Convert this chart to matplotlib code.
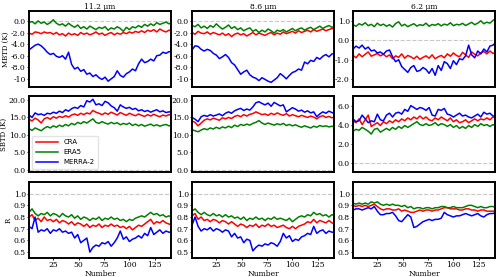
import numpy as np
import matplotlib
matplotlib.use('Agg')
import matplotlib.pyplot as plt

plt.rcParams['font.family'] = 'DejaVu Serif'

number = np.arange(1, 143, 3)

titles = ['11.2 μm', '8.6 μm', '6.2 μm']
row_labels = ['MBTD (K)', 'SBTD (K)', 'R']
names = ['CRA', 'ERA5', 'MERRA-2']

# MBTD
mbtd_cra_112 = [-2.1, -2.3, -1.9, -2.0, -2.2, -1.9, -2.1, -2.0, -2.3, -2.0, -2.4, -2.2,
                -2.6, -2.1, -2.4, -2.2, -2.5, -2.0, -2.3, -2.1, -2.4, -2.2, -1.9, -2.3,
                -2.1, -2.5, -2.2, -2.0, -2.4, -2.1, -2.3, -2.0, -2.2, -1.9, -2.1, -1.8,
                -2.0, -1.7, -2.0, -1.6, -1.8, -1.5, -1.9, -1.4, -1.7, -1.9, -1.6, -1.7]
mbtd_era_112 = [-0.3, -0.1, -0.5, 0.0, -0.4, -0.2, -0.6, -0.3, 0.2, -0.4, -0.7, -0.5,
                -0.9, -0.4, -0.8, -1.1, -0.7, -1.3, -1.0, -1.4, -0.9, -1.2, -1.5, -1.1,
                -1.3, -1.0, -1.6, -1.2, -1.4, -1.0, -1.3, -1.8, -1.1, -1.5, -1.0, -1.2,
                -0.8, -1.1, -0.6, -0.9, -0.5, -0.8, -0.3, -0.6, -0.4, -0.2, -0.5, -0.3]
mbtd_mer_112 = [-5.0, -4.6, -4.2, -4.0, -4.3, -4.8, -5.4, -5.8, -5.6, -6.1, -6.3, -6.0,
                -6.6, -5.4, -7.5, -8.3, -8.0, -8.7, -8.4, -9.2, -9.0, -9.6, -9.3, -9.8,
                -10.1, -9.7, -10.4, -10.0, -9.6, -8.6, -9.4, -9.7, -9.1, -8.8, -8.3, -8.6,
                -7.4, -6.6, -7.2, -7.0, -6.6, -6.9, -6.0, -5.9, -5.4, -5.6, -5.3, -5.4]

mbtd_cra_86 = [-2.0, -2.3, -1.8, -2.1, -2.2, -1.9, -2.3, -2.0, -2.2, -2.4, -2.1, -2.5,
               -2.2, -2.7, -2.3, -2.1, -2.4, -2.2, -2.6, -2.3, -2.0, -2.4, -2.1, -2.3,
               -2.5, -2.2, -2.0, -2.4, -2.1, -2.3, -1.9, -2.2, -2.0, -1.8, -2.1, -1.7,
               -2.0, -1.8, -1.6, -1.9, -1.5, -1.8, -1.6, -1.4, -1.7, -1.5, -1.3, -1.4]
mbtd_era_86 = [-0.8, -1.0, -0.6, -1.2, -0.9, -1.3, -0.8, -1.1, -0.5, -1.0, -1.4, -1.1,
               -0.7, -1.3, -1.0, -1.5, -1.2, -1.7, -1.4, -1.2, -1.8, -1.5, -2.0, -1.6,
               -1.9, -1.4, -1.7, -2.1, -1.6, -1.8, -1.5, -1.9, -1.6, -1.3, -1.7, -1.4,
               -1.2, -1.6, -1.3, -1.1, -1.5, -1.2, -0.9, -1.3, -1.0, -0.8, -1.1, -0.9]
mbtd_mer_86 = [-5.0, -4.3, -4.4, -4.9, -5.2, -4.9, -5.1, -5.6, -5.9, -6.5, -6.2, -5.8,
               -6.3, -7.2, -7.6, -8.4, -9.2, -8.8, -8.5, -9.3, -9.7, -9.9, -10.3, -9.8,
               -10.1, -10.4, -10.6, -10.2, -9.8, -9.1, -9.5, -10.0, -9.4, -8.9, -8.7, -8.3,
               -8.5, -7.1, -7.4, -6.8, -7.0, -6.3, -6.6, -6.1, -5.8, -6.2, -5.7, -5.6]

mbtd_cra_62 = [-0.78, -0.90, -0.70, -0.85, -0.72, -0.60, -0.82, -0.75, -0.68, -0.80, -0.72, -0.85,
               -0.75, -0.95, -0.80, -0.88, -0.70, -0.92, -0.78, -0.85, -0.95, -0.82, -0.98, -0.88,
               -0.80, -0.92, -0.75, -0.95, -0.85, -0.78, -0.90, -0.70, -0.82, -0.65, -0.78, -0.85,
               -0.62, -0.75, -0.88, -0.60, -0.72, -0.80, -0.65, -0.58, -0.70, -0.55, -0.68, -0.60]
mbtd_era_62 = [0.80, 0.72, 0.85, 0.78, 0.90, 0.75, 0.82, 0.70, 0.88, 0.76, 0.83, 0.72,
               0.80, 0.68, 0.86, 0.95, 0.74, 0.82, 0.70, 0.78, 0.85, 0.73, 0.80, 0.76,
               0.88, 0.72, 0.81, 0.77, 0.85, 0.74, 0.83, 0.78, 0.90, 0.75, 0.82, 0.79,
               0.87, 0.76, 0.84, 0.92, 0.80, 0.88, 1.00, 0.85, 0.93, 0.88, 1.02, 1.12]
mbtd_mer_62 = [-0.45, -0.30, -0.40, -0.25, -0.45, -0.35, -0.55, -0.50, -0.65, -0.60, -0.72, -0.55,
               -0.50, -0.85, -1.10, -1.00, -1.35, -1.50, -1.65, -1.40, -1.30, -1.60, -1.55, -1.40,
               -1.50, -1.70, -1.45, -1.80, -1.30, -1.55, -1.10, -1.20, -1.45, -1.05, -1.25, -0.95,
               -1.00, -0.80, -0.25, -0.75, -0.90, -0.55, -0.70, -0.45, -0.60, -0.30, -0.25, -0.10]

# SBTD
sbtd_cra_112 = [14.5, 14.0, 14.8, 14.3, 13.4, 14.6, 15.0, 14.5, 15.2, 14.8, 15.3, 15.0,
                15.5, 15.1, 15.7, 16.0, 15.6, 16.2, 15.8, 16.3, 16.0, 17.0, 16.5, 16.2,
                15.8, 16.3, 15.9, 16.5, 16.1, 15.7, 16.4, 16.0, 15.6, 16.2, 15.8, 15.5,
                16.0, 15.6, 15.3, 15.8, 15.4, 15.9, 15.5, 15.2, 15.7, 15.4, 15.8, 15.6]
sbtd_era_112 = [11.8, 11.3, 12.0, 11.6, 11.2, 11.9, 12.4, 12.0, 12.6, 12.2, 12.8, 12.4,
                13.0, 12.6, 13.3, 12.9, 13.6, 13.2, 13.8, 13.4, 14.0, 14.6, 13.6, 13.3,
                13.8, 13.4, 13.1, 13.6, 13.2, 13.5, 12.9, 13.3, 13.0, 13.4, 12.7, 13.1,
                12.6, 13.0, 12.5, 12.8, 13.1, 12.6, 12.9, 12.5, 12.8, 13.0, 12.6, 12.8]
sbtd_mer_112 = [15.7, 15.0, 16.3, 15.8, 16.0, 15.6, 16.2, 16.0, 16.5, 16.2, 16.8, 16.4,
                17.2, 16.8, 17.5, 17.9, 17.6, 18.4, 18.0, 19.8, 19.4, 20.2, 18.6, 18.9,
                18.4, 19.6, 19.2, 18.3, 17.8, 16.8, 18.6, 18.0, 17.6, 17.9, 17.3, 17.6,
                16.9, 17.2, 16.7, 17.0, 16.5, 16.9, 17.2, 16.6, 16.9, 16.4, 16.6, 16.5]

sbtd_cra_86 = [14.0, 13.6, 12.6, 13.4, 14.2, 14.6, 14.3, 14.8, 14.5, 14.2, 14.9, 14.6,
               15.0, 14.7, 15.3, 15.6, 15.2, 15.8, 15.4, 15.9, 16.1, 16.6, 16.2, 15.8,
               16.0, 15.6, 16.2, 15.8, 16.3, 15.9, 15.6, 16.1, 15.4, 15.8, 15.5, 15.2,
               15.6, 15.3, 15.0, 15.4, 15.1, 14.6, 15.2, 15.5, 15.0, 15.3, 14.9, 15.1]
sbtd_era_86 = [11.5, 11.2, 10.9, 11.4, 11.8, 11.5, 12.0, 11.7, 12.2, 11.8, 12.3, 12.0,
               12.5, 12.1, 12.8, 12.4, 13.0, 12.7, 13.1, 12.8, 13.3, 13.6, 14.1, 13.4,
               13.0, 13.4, 13.1, 12.8, 13.2, 12.9, 13.3, 12.7, 13.0, 12.6, 12.9, 12.5,
               12.2, 12.6, 12.3, 12.0, 12.5, 12.2, 12.7, 12.4, 12.6, 12.3, 12.5, 12.2]
sbtd_mer_86 = [15.0, 14.5, 13.8, 15.2, 15.6, 15.3, 15.8, 15.4, 15.7, 16.0, 15.5, 16.2,
               16.6, 16.2, 16.9, 17.3, 17.6, 17.0, 17.4, 17.1, 18.0, 19.2, 19.5, 19.0,
               18.6, 19.1, 18.2, 19.3, 18.8, 18.3, 18.6, 16.6, 17.2, 17.8, 17.4, 16.8,
               17.1, 16.5, 16.9, 16.3, 16.6, 15.2, 16.0, 16.6, 16.2, 16.8, 16.4, 16.0]

sbtd_cra_62 = [4.4, 4.2, 4.6, 4.0, 4.5, 5.0, 3.8, 4.0, 4.2, 3.9, 4.3, 4.1,
               4.4, 4.2, 4.5, 4.3, 4.6, 4.4, 4.7, 4.5, 4.8, 4.6, 4.9, 4.6,
               4.8, 4.5, 4.4, 4.7, 4.5, 4.8, 4.6, 4.4, 4.7, 4.3, 4.5, 4.2,
               4.3, 4.5, 4.2, 4.4, 4.6, 4.4, 4.6, 4.5, 4.7, 4.5, 4.8, 4.7]
sbtd_era_62 = [3.3, 3.5, 3.4, 3.7, 3.5, 3.3, 3.0, 3.5, 3.6, 3.2, 3.4, 3.6,
               3.4, 3.7, 3.5, 3.8, 3.6, 3.9, 3.7, 3.9, 4.1, 4.3, 4.0, 3.9,
               4.1, 3.9, 4.0, 4.2, 3.9, 4.1, 4.0, 3.8, 4.0, 3.7, 3.9, 3.6,
               3.8, 3.6, 3.9, 3.7, 4.0, 3.8, 4.1, 3.9, 4.0, 3.8, 4.0, 3.9]
sbtd_mer_62 = [4.6, 4.3, 4.4, 5.0, 4.6, 4.2, 4.4, 4.3, 5.1, 4.5, 4.4, 5.0,
               5.2, 4.8, 5.2, 5.3, 5.1, 5.6, 5.4, 6.0, 5.8, 5.6, 5.8, 5.7,
               5.5, 5.8, 5.0, 4.9, 5.6, 5.5, 5.7, 5.1, 5.0, 4.8, 5.0, 5.2,
               4.9, 5.0, 4.8, 4.7, 4.9, 5.1, 4.8, 5.3, 5.1, 5.2, 4.9, 4.9]

# R
r_cra_112 = [0.80, 0.82, 0.77, 0.79, 0.76, 0.80, 0.77, 0.78, 0.76, 0.78, 0.75, 0.77,
             0.76, 0.74, 0.76, 0.73, 0.75, 0.74, 0.72, 0.74, 0.71, 0.73, 0.72, 0.74,
             0.71, 0.73, 0.72, 0.74, 0.72, 0.73, 0.71, 0.72, 0.70, 0.72, 0.69, 0.71,
             0.73, 0.72, 0.74, 0.76, 0.78, 0.74, 0.76, 0.75, 0.77, 0.75, 0.74, 0.73]
r_era_112 = [0.84, 0.87, 0.83, 0.81, 0.83, 0.82, 0.84, 0.81, 0.83, 0.82, 0.80, 0.83,
             0.81, 0.80, 0.82, 0.79, 0.81, 0.78, 0.80, 0.79, 0.77, 0.79, 0.78, 0.80,
             0.77, 0.79, 0.78, 0.80, 0.78, 0.79, 0.77, 0.78, 0.76, 0.78, 0.77, 0.79,
             0.80, 0.81, 0.80, 0.82, 0.84, 0.82, 0.83, 0.81, 0.82, 0.80, 0.81, 0.80]
r_mer_112 = [0.72, 0.70, 0.80, 0.67, 0.69, 0.68, 0.70, 0.66, 0.69, 0.68, 0.70, 0.67,
             0.68, 0.66, 0.67, 0.62, 0.65, 0.58, 0.60, 0.62, 0.50, 0.54, 0.56, 0.55,
             0.58, 0.57, 0.59, 0.55, 0.58, 0.62, 0.68, 0.61, 0.63, 0.59, 0.61, 0.62,
             0.64, 0.62, 0.66, 0.64, 0.71, 0.65, 0.67, 0.69, 0.66, 0.68, 0.67, 0.67]

r_cra_86 = [0.81, 0.83, 0.78, 0.80, 0.77, 0.78, 0.76, 0.78, 0.77, 0.75, 0.77, 0.76,
            0.74, 0.76, 0.74, 0.72, 0.74, 0.73, 0.71, 0.73, 0.72, 0.74, 0.71, 0.73,
            0.72, 0.74, 0.72, 0.73, 0.71, 0.72, 0.73, 0.71, 0.70, 0.72, 0.70, 0.72,
            0.73, 0.74, 0.76, 0.75, 0.78, 0.75, 0.77, 0.76, 0.75, 0.77, 0.75, 0.74]
r_era_86 = [0.85, 0.87, 0.84, 0.82, 0.84, 0.82, 0.81, 0.83, 0.81, 0.82, 0.80, 0.82,
            0.80, 0.81, 0.79, 0.80, 0.78, 0.80, 0.77, 0.79, 0.78, 0.80, 0.78, 0.79,
            0.77, 0.79, 0.78, 0.80, 0.78, 0.79, 0.78, 0.77, 0.79, 0.76, 0.78, 0.80,
            0.81, 0.80, 0.82, 0.81, 0.84, 0.82, 0.83, 0.81, 0.82, 0.80, 0.82, 0.81]
r_mer_86 = [0.73, 0.80, 0.72, 0.68, 0.70, 0.69, 0.71, 0.68, 0.70, 0.69, 0.67, 0.69,
            0.68, 0.63, 0.66, 0.62, 0.63, 0.58, 0.61, 0.60, 0.51, 0.54, 0.56, 0.55,
            0.57, 0.56, 0.58, 0.57, 0.55, 0.59, 0.66, 0.62, 0.64, 0.59, 0.61, 0.60,
            0.63, 0.64, 0.66, 0.65, 0.72, 0.66, 0.68, 0.69, 0.66, 0.68, 0.67, 0.67]

r_cra_62 = [0.90, 0.89, 0.90, 0.89, 0.90, 0.89, 0.90, 0.91, 0.89, 0.87, 0.86, 0.87,
            0.87, 0.86, 0.86, 0.87, 0.85, 0.86, 0.85, 0.84, 0.84, 0.85, 0.86, 0.85,
            0.86, 0.86, 0.85, 0.86, 0.86, 0.87, 0.88, 0.88, 0.87, 0.87, 0.87, 0.86,
            0.86, 0.87, 0.87, 0.86, 0.86, 0.85, 0.86, 0.86, 0.85, 0.85, 0.85, 0.85]
r_era_62 = [0.92, 0.91, 0.92, 0.91, 0.92, 0.91, 0.93, 0.92, 0.93, 0.91, 0.90, 0.91,
            0.90, 0.91, 0.90, 0.90, 0.89, 0.90, 0.88, 0.89, 0.87, 0.88, 0.88, 0.87,
            0.88, 0.88, 0.87, 0.88, 0.88, 0.89, 0.89, 0.88, 0.88, 0.89, 0.88, 0.88,
            0.88, 0.89, 0.90, 0.90, 0.89, 0.88, 0.89, 0.88, 0.88, 0.89, 0.89, 0.88]
r_mer_62 = [0.86, 0.87, 0.87, 0.86, 0.87, 0.88, 0.87, 0.89, 0.85, 0.82, 0.82, 0.83,
            0.83, 0.84, 0.81, 0.77, 0.76, 0.79, 0.82, 0.80, 0.71, 0.72, 0.74, 0.76,
            0.77, 0.78, 0.77, 0.78, 0.78, 0.79, 0.84, 0.82, 0.81, 0.80, 0.81, 0.81,
            0.82, 0.83, 0.82, 0.81, 0.82, 0.83, 0.81, 0.80, 0.82, 0.83, 0.83, 0.84]

panels = [
    [(mbtd_cra_112, mbtd_era_112, mbtd_mer_112),
     (mbtd_cra_86, mbtd_era_86, mbtd_mer_86),
     (mbtd_cra_62, mbtd_era_62, mbtd_mer_62)],
    [(sbtd_cra_112, sbtd_era_112, sbtd_mer_112),
     (sbtd_cra_86, sbtd_era_86, sbtd_mer_86),
     (sbtd_cra_62, sbtd_era_62, sbtd_mer_62)],
    [(r_cra_112, r_era_112, r_mer_112),
     (r_cra_86, r_era_86, r_mer_86),
     (r_cra_62, r_era_62, r_mer_62)],
]

# y ticks / labels per panel
yticks = [
    [[0, -2, -4, -6, -8, -10], [0, -2, -4, -6, -8, -10], [1, 0, -1, -2]],
    [[0, 5, 10, 15, 20], [0, 5, 10, 15, 20], [0, 2, 4, 6]],
    [[0.5, 0.6, 0.7, 0.8, 0.9, 1.0]] * 3,
]
ytlabels = [
    [['0.0', '-2.0', '-4.0', '-6.0', '-8.0', '-10'],
     ['0.0', '-2.0', '-4.0', '-6.0', '-8.0', '-10'],
     ['1.0', '0.0', '-1.0', '-2.0']],
    [['0.0', '5.0', '10.0', '15.0', '20.0'],
     ['0.0', '5.0', '10.0', '15.0', '20.0'],
     ['0.0', '2.0', '4.0', '6.0']],
    [['0.5', '0.6', '0.7', '0.8', '0.9', '1.0']] * 3,
]
ylims = [
    [(-11.4, 1.7), (-11.4, 1.7), (-2.4, 1.5)],
    [(-0.6, 21.1), (-0.6, 21.1), (-1.0, 7.0)],
    [(0.45, 1.10), (0.45, 1.10), (0.45, 1.10)],
]
refs = [0.0, 0.0, 1.0]
xticks = [25, 50, 75, 100, 125]
colors = ['red', 'green', 'blue']

fig = plt.figure(figsize=(5, 2.77), dpi=100)

lefts = [0.058, 0.384, 0.706]
width = 0.284
bottoms = [0.686, 0.379, 0.069]
height = 0.274

for r in range(3):
    for c in range(3):
        ax = fig.add_axes([lefts[c], bottoms[r], width, height])
        ax.axhline(refs[r], color='#c8c8c8', ls='--', lw=0.8)
        for series, col, name in zip(panels[r][c], colors, names):
            ax.plot(number, series, color=col, lw=1.1, label=name)
        ax.set_xlim(1, 141)
        ax.set_ylim(*ylims[r][c])
        ax.set_yticks(yticks[r][c])
        ax.set_yticklabels(ytlabels[r][c])
        ax.set_xticks(xticks)
        ax.tick_params(labelsize=5.5, length=1.5, pad=0.8, width=0.6)
        if r < 2:
            ax.set_xticklabels([])
            ax.tick_params(axis='x', length=0)
        else:
            ax.set_xlabel('Number', fontsize=5.5, labelpad=0.5)
        if r == 0:
            ax.set_title(titles[c], fontsize=5.5, pad=1.5)
        if c == 0:
            ax.set_ylabel(row_labels[r], fontsize=5, labelpad=1)
        for s in ax.spines.values():
            s.set_linewidth(1.4)
        if r == 1 and c == 0:
            ax.legend(loc='lower left', prop={'family': 'DejaVu Sans', 'size': 5},
                      handlelength=3.2, borderpad=0.5, labelspacing=0.55,
                      fancybox=True, framealpha=0.8, edgecolor='#dddddd')

fig.savefig('out.png', dpi=100)
